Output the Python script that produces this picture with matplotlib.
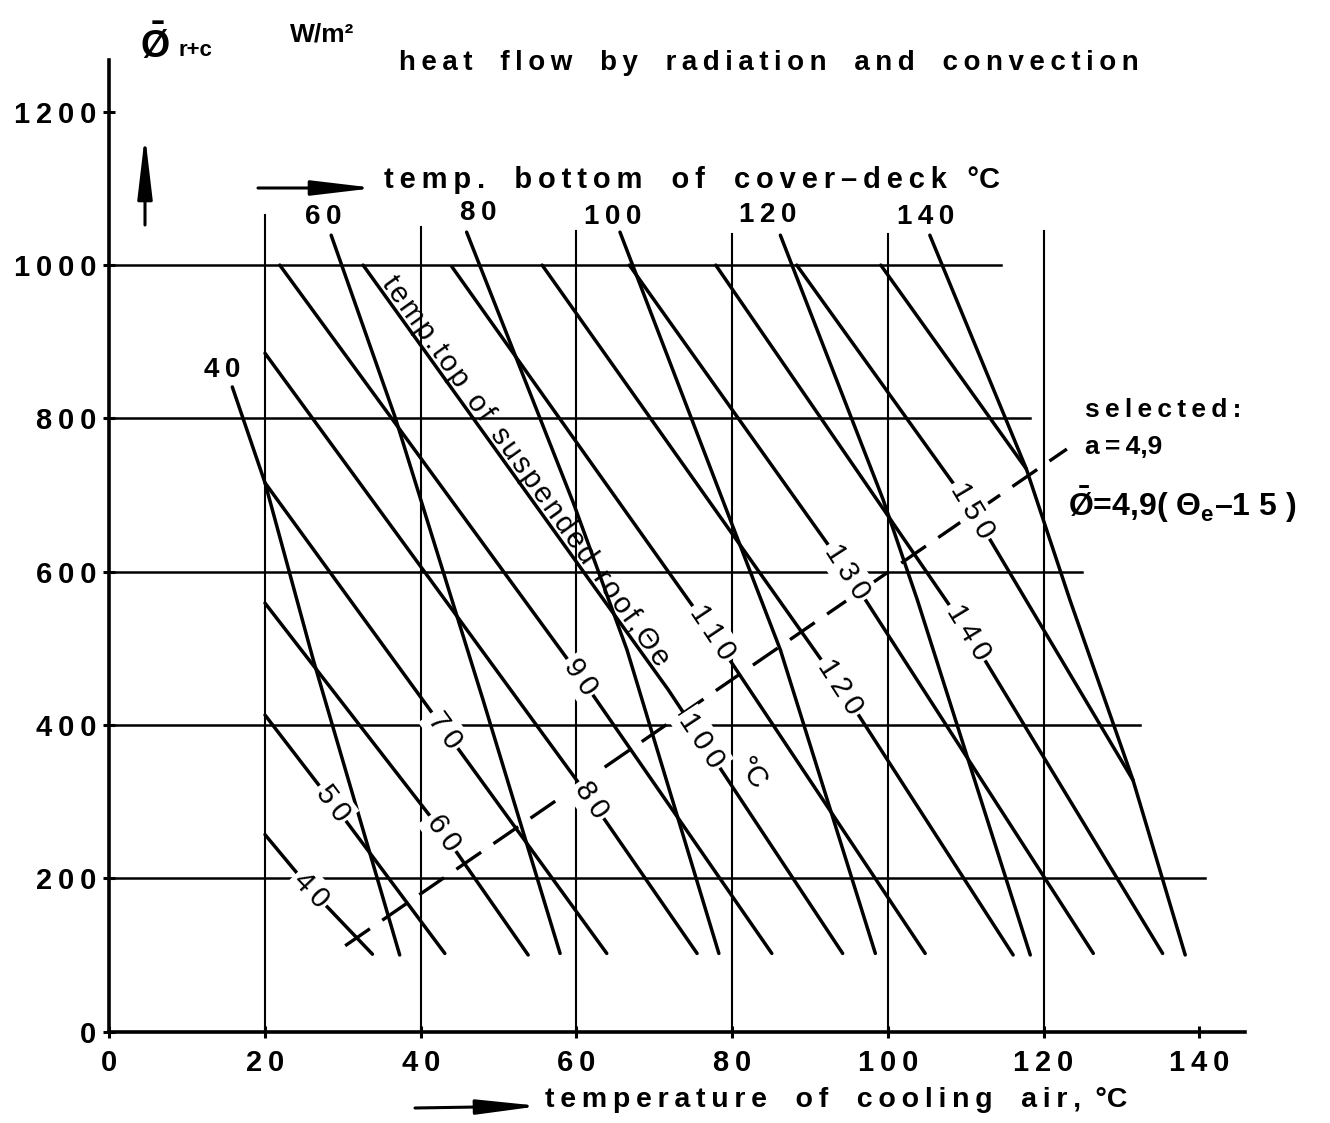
import math
import matplotlib
matplotlib.use("Agg")
import matplotlib.pyplot as plt

plt.rcParams['font.family'] = ['Liberation Sans', 'DejaVu Sans']
plt.rcParams['mathtext.fontset'] = 'custom'
plt.rcParams['mathtext.rm'] = 'Liberation Sans:bold'
plt.rcParams['mathtext.it'] = 'Liberation Sans:bold'
plt.rcParams['mathtext.bf'] = 'Liberation Sans:bold'

W, H = 1330, 1123

# ---- values ----
x_ticks = [0, 20, 40, 60, 80, 100, 120, 140]
y_ticks = [0, 200, 400, 600, 800, 1000, 1200]

# grid lines (with their drawn extents)
grid_x = [20, 40, 60, 80, 100, 120]
grid_x_top = [1065, 1050, 1045, 1040, 1040, 1045]
grid_y = [200, 400, 600, 800, 1000]
grid_y_end = [140.7, 132.4, 125.0, 118.3, 114.5]

# temp. bottom of cover-deck (steep curves)
deck_labels = ['40', '60', '80', '100', '120', '140']
deck_x = [[15.8, 20.0, 26.2, 37.3],
          [28.5, 36.7, 48.0, 57.9],
          [45.9, 59.6, 66.5, 78.3],
          [65.6, 79.3, 86.2, 98.4],
          [86.2, 99.4, 103.8, 118.3],
          [105.4, 117.8, 123.4, 131.5, 138.2]]
deck_y = [[841, 716, 485, 100],
          [1039, 802, 433, 102],
          [1043, 690, 498, 102],
          [1043, 680, 498, 102],
          [1039, 694, 563, 100],
          [1039, 734, 563, 328, 100]]
deck_lab_x = [14.5, 27.5, 47.4, 64.6, 84.6, 104.9]
deck_lab_y = [863, 1063, 1068, 1063, 1065, 1063]

# temp. top of suspended roof, theta_e (flatter lines)
roof_labels = ['40', '50', '60', '70', '80', '90', '100', '110', '120', '130', '140', '150', '']
roof_x = [[20.0, 25.9, 33.8], [20.0, 28.7, 43.1], [20.0, 42.9, 53.8],
          [20.0, 43.1, 63.9], [20.0, 61.9, 75.5], [21.9, 60.5, 85.1],
          [32.6, 71.8, 94.2], [44.0, 77.4, 104.8], [55.6, 93.9, 116.1],
          [66.8, 94.8, 126.4], [77.9, 110.3, 135.3], [88.3, 110.9, 131.5],
          [99.1, 117.8]]
roof_y = [[257, 185, 101], [413, 298, 102], [559, 259, 100],
          [716, 393, 102], [885, 302, 102], [1000, 463, 102],
          [1000, 446, 102], [998, 520, 102], [1000, 450, 100],
          [1000, 600, 102], [1000, 521, 102], [1000, 680, 328],
          [1000, 734]]
roof_lab_x = [25.9, 28.7, 42.9, 43.1, 61.9, 60.5, 76.1, 77.4, 93.9, 94.8, 110.3, 110.9]
roof_lab_y = [185, 298, 259, 393, 302, 463, 380, 520, 450, 600, 521, 680]

# selected: phi = 4,9 (theta_e - 15)
sel_x = [30.3, 123.0]
sel_y = [112, 760]


def spaced(s, gap='\u2009', word='\u2003'):
    return word.join(gap.join(w) for w in s.split(' '))


def fp(px, py):
    # picture pixel -> figure fraction
    return px / W, 1 - py / H


fig = plt.figure(figsize=(W / 100, H / 100), dpi=100)
x0, y0, x1, y1 = 109.3, 1031.6, 1245, 60
ax = fig.add_axes([x0 / W, 1 - y0 / H, (x1 - x0) / W, (y0 - y1) / H])
ax.set_xlim(0, (x1 - x0) / 7.785)
ax.set_ylim(0, (y0 - y1) / 0.7665)

for s in ['top', 'right']:
    ax.spines[s].set_visible(False)
for s in ['left', 'bottom']:
    ax.spines[s].set_linewidth(2.6)

ax.set_xticks(x_ticks)
ax.set_xticklabels([spaced(str(v)) for v in x_ticks], fontsize=21, fontweight='bold')
ax.set_yticks(y_ticks)
ax.set_yticklabels([spaced(str(v)) for v in y_ticks], fontsize=21, fontweight='bold')
ax.tick_params(direction='inout', length=9, width=2.2, pad=5)
ax.tick_params(axis='x', pad=8)

lw = 2.5
for gx, top in zip(grid_x, grid_x_top):
    ax.plot([gx, gx], [0, top], color='black', lw=1.5, zorder=1)
for gy, end in zip(grid_y, grid_y_end):
    ax.plot([0, end], [gy, gy], color='black', lw=1.8, zorder=1)

for xs, ys in zip(deck_x, deck_y):
    ax.plot(xs, ys, color='black', lw=lw, solid_capstyle='round')
for xs, ys in zip(roof_x, roof_y):
    ax.plot(xs, ys, color='black', lw=lw, solid_capstyle='round')

ax.plot(sel_x, sel_y, color='black', lw=2.4, dashes=(9, 4.5))


def angle_at(xs, ys, ly):
    i = 0
    for k in range(len(ys) - 1):
        if ys[k] >= ly >= ys[k + 1]:
            i = k
    a = ax.transData.transform((xs[i], ys[i]))
    b = ax.transData.transform((xs[i + 1], ys[i + 1]))
    return math.degrees(math.atan2(b[1] - a[1], b[0] - a[0]))


for lab, lx, ly, xs, ys in zip(roof_labels, roof_lab_x, roof_lab_y, roof_x, roof_y):
    rot = angle_at(xs, ys, ly)
    ax.text(lx, ly, spaced(lab), fontsize=21, fontweight='medium', rotation=rot,
            rotation_mode='anchor', ha='center', va='center', zorder=5,
            bbox=dict(facecolor='white', edgecolor='none', pad=2))

# degree sign after the 100 label and the text along the 100 line
rot100 = angle_at(roof_x[6], roof_y[6], 700)
ax.text(82.4, 336, '°C', fontsize=21, rotation=rot100, rotation_mode='anchor',
        ha='center', va='center', zorder=5)
ax.text(34.9, 976, spaced('temp.top of suspended roof,Θe', gap='\u200a', word='\u2002'),
        fontsize=21, rotation=rot100, rotation_mode='anchor', ha='left', va='baseline',
        zorder=5)

for lab, lx, ly in zip(deck_labels, deck_lab_x, deck_lab_y):
    ax.text(lx, ly, spaced(lab), fontsize=20, fontweight='bold', ha='center', va='center')

# titles and annotations
bold = dict(fontweight='bold', color='black')
fig.text(*fp(769, 63), spaced('heat flow by radiation and convection'), fontsize=20,
         ha='center', va='center', **bold)
fig.text(*fp(692, 180), spaced('temp. bottom of cover–deck') + '\u2002\u2009°C', fontsize=21,
         ha='center', va='center', **bold)
fig.text(*fp(836, 1100), spaced('temperature of cooling air,') + '\u2002°C', fontsize=20.5,
         ha='center', va='center', **bold)
fig.text(*fp(140, 45), r'$\bar{Ø}$', fontsize=27, ha='left', va='center')
fig.text(*fp(179, 50), 'r+c', fontsize=16, ha='left', va='center', **bold)
fig.text(*fp(322, 35), 'W/m²', fontsize=19, ha='center', va='center', **bold)
fig.text(*fp(1085, 410), spaced('selected:'), fontsize=19, ha='left', va='center', **bold)
fig.text(*fp(1085, 447), 'a\u2009=\u20094,9', fontsize=19, ha='left', va='center', **bold)
fig.text(*fp(1068, 505), r'$\bar{Ø}$=4,9( Θ$_e$–1 5 )', fontsize=23, ha='left', va='center', **bold)

arrow = dict(arrowstyle='-|>,head_length=3.8,head_width=0.45', color='black', lw=2.2,
             shrinkA=0, shrinkB=0)
for tail, tip in [((145, 225), (145, 135)), ((258, 188), (375, 188)), ((415, 1108), (540, 1106))]:
    ax.annotate('', xy=(tip[0], H - tip[1]), xytext=(tail[0], H - tail[1]),
                xycoords='figure pixels', textcoords='figure pixels', arrowprops=arrow)

fig.savefig('out.png', dpi=100)
